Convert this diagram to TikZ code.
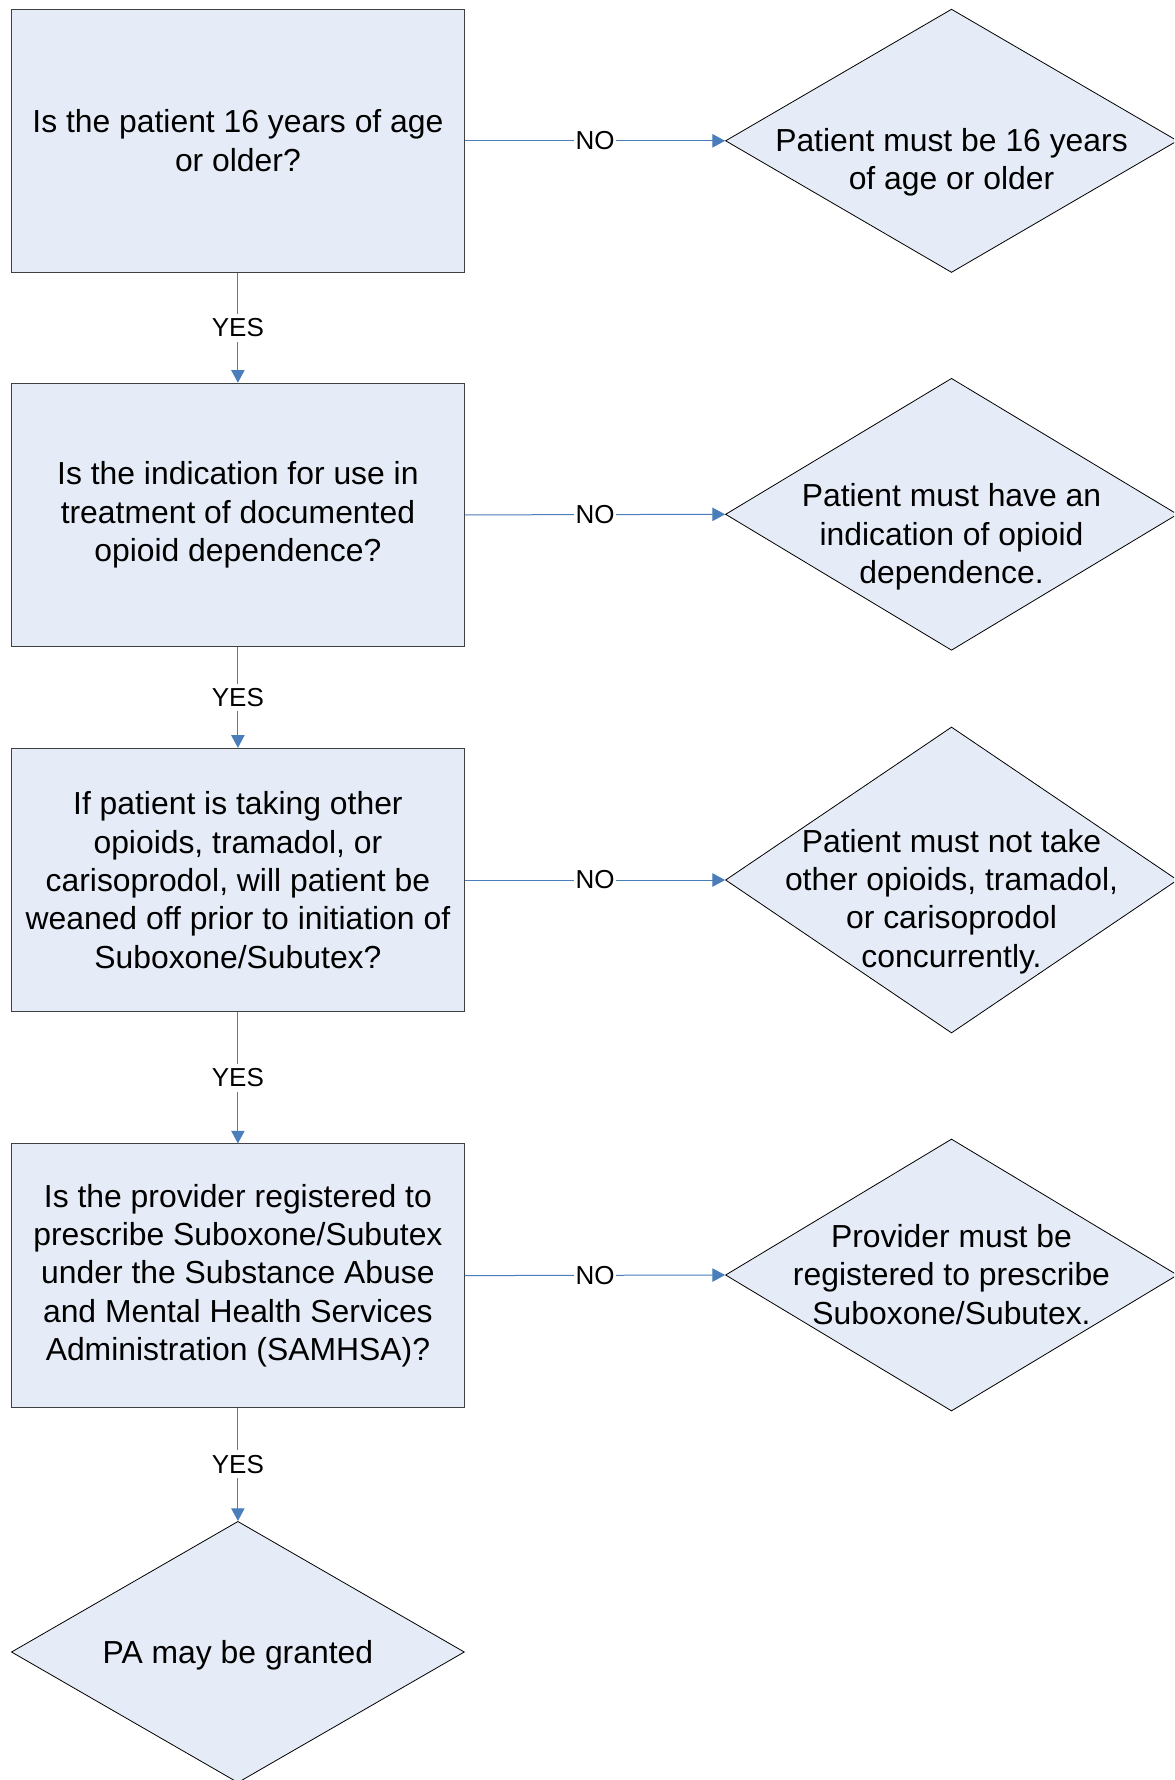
\documentclass[tikz,border=0pt]{standalone}
\usepackage{fontspec}
\setmainfont{Liberation Sans}
\usetikzlibrary{shapes.geometric,arrows.meta}
\definecolor{boxfill}{RGB}{230,236,247}
\definecolor{linkblue}{RGB}{74,126,187}
\definecolor{boxline}{RGB}{64,64,64}
\begin{document}
\begin{tikzpicture}[x=0.75pt,y=-0.75pt,
  qbox/.style={draw=boxline,line width=0.75pt,fill=boxfill,minimum width=339.75pt,minimum height=197.5pt,inner sep=0pt,
    align=center,font=\fontsize{23.9}{28.8}\selectfont},
  dia/.style={diamond,draw=black,line width=0.6pt,fill=boxfill,inner sep=0pt},
  diatext/.style={align=center,font=\fontsize{23.9}{28.8}\selectfont,inner sep=0pt},
  link/.style={draw=linkblue,line width=0.75pt,-{Triangle[length=9.5pt,width=10pt]}},
  lbl/.style={fill=white,inner xsep=1pt,inner ysep=3.5pt,font=\fontsize{19.5}{22}\selectfont}]
\useasboundingbox (0,0) rectangle (1174,1780);
\fill[white] (0,0) rectangle (1174,1780);
\begin{scope}
\clip (0,0) rectangle (1174,1780);
% question boxes
\node[qbox] (b1) at (237.9,140.8) {Is the patient 16 years of age\\or older?};
\node[qbox] (b2) at (237.9,514.9) {Is the indication for use in\\treatment of documented\\opioid dependence?};
\node[qbox] (b3) at (237.9,880) {If patient is taking other\\opioids, tramadol, or\\carisoprodol, will patient be\\weaned off prior to initiation of\\Suboxone/Subutex?};
\node[qbox] (b4) at (237.9,1275.6) {Is the provider registered to\\prescribe Suboxone/Subutex\\under the Substance Abuse\\and Mental Health Services\\Administration (SAMHSA)?};
% outcome diamonds
\node[dia,minimum width=339pt,minimum height=197.5pt] (d1) at (951.5,140.8) {};
\node[diatext] (t1) at (951.5,162) {Patient must be 16 years\\of age or older};
\node[dia,minimum width=339pt,minimum height=204pt] (d2) at (951.5,514.3) {};
\node[diatext] (t2) at (951.5,537) {Patient must have an\\indication of opioid\\dependence.};
\node[dia,minimum width=339pt,minimum height=229.5pt] (d3) at (951.5,880) {};
\node[diatext] (t3) at (951.5,901.5) {Patient must not take\\other opioids, tramadol,\\or carisoprodol\\concurrently.};
\node[dia,minimum width=339pt,minimum height=204pt] (d4) at (951.5,1275) {};
\node[diatext] (t4) at (951.5,1274.5) {Provider must be\\registered to prescribe\\Suboxone/Subutex.};
\node[dia,minimum width=339.75pt,minimum height=196pt] (d5) at (237.9,1652) {};
\node[diatext] (t5) at (237.9,1655) {PA may be granted};
% connectors
\draw[link] (b1.east) -- node[lbl]{NO} (d1.west);
\draw[link] (b2.east) -- node[lbl]{NO} (d2.west);
\draw[link] (b3.east) -- node[lbl]{NO} (d3.west);
\draw[link] (b4.east) -- node[lbl]{NO} (d4.west);
\draw[link] (b1.south) -- node[lbl]{YES} (b2.north);
\draw[link] (b2.south) -- node[lbl]{YES} (b3.north);
\draw[link] (b3.south) -- node[lbl]{YES} (b4.north);
\draw[link] (b4.south) -- node[lbl]{YES} (d5.north);
\end{scope}
\end{tikzpicture}
\end{document}
